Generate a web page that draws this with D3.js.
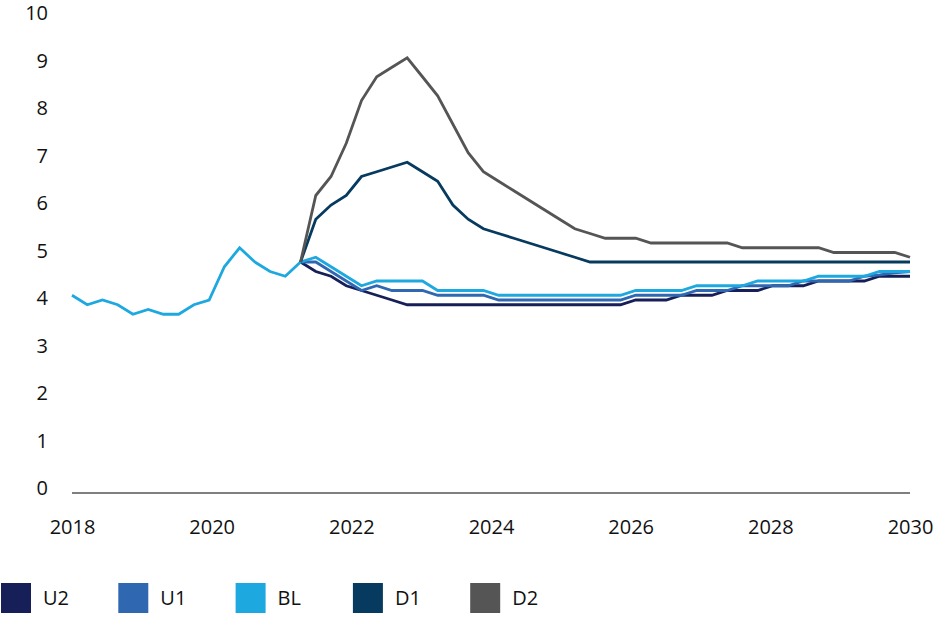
<!DOCTYPE html>
<html>
<head>
<meta charset="utf-8">
<script src="https://cdn.jsdelivr.net/npm/d3@7"></script>
<style>
  html, body { margin: 0; padding: 0; background: #fff; }
  svg { display: block; font-family: "Open Sans", "DejaVu Sans", sans-serif; }
</style>
</head>
<body>
<svg id="chart" width="937" height="624"></svg>
<script>
// ---- data (quarterly-ish points, 56 periods from 2018 to 2030) ----
const seriesNames = ["U2", "U1", "BL", "D1", "D2"];
const seriesColors = ["#161f57", "#2f67b1", "#1ea8e0", "#063a5e", "#555555"];
const yTicks = [0, 1, 2, 3, 4, 5, 6, 7, 8, 9, 10];
const xTickLabels = [2018, 2020, 2022, 2024, 2026, 2028, 2030];

const N = null;
const BL = [4.1, 3.9, 4.0, 3.9, 3.7, 3.8, 3.7, 3.7, 3.9, 4.0, 4.7, 5.1, 4.8, 4.6, 4.5, 4.8,
            4.9, 4.7, 4.5, 4.3, 4.4, 4.4, 4.4, 4.4, 4.2, 4.2, 4.2, 4.2,
            4.1, 4.1, 4.1, 4.1, 4.1, 4.1, 4.1, 4.1, 4.1,
            4.2, 4.2, 4.2, 4.2, 4.3, 4.3, 4.3, 4.3, 4.4, 4.4, 4.4, 4.4,
            4.5, 4.5, 4.5, 4.5, 4.6, 4.6, 4.6];
const U1 = [N, N, N, N, N, N, N, N, N, N, N, N, N, N, N, 4.8,
            4.8, 4.6, 4.4, 4.2, 4.3, 4.2, 4.2, 4.2, 4.1, 4.1, 4.1, 4.1,
            4.0, 4.0, 4.0, 4.0, 4.0, 4.0, 4.0, 4.0, 4.0,
            4.1, 4.1, 4.1, 4.1, 4.2, 4.2, 4.2, 4.3, 4.3, 4.3, 4.3, 4.4,
            4.4, 4.4, 4.4, 4.5, 4.53, 4.57, 4.6];
const U2 = [N, N, N, N, N, N, N, N, N, N, N, N, N, N, N, 4.8,
            4.6, 4.5, 4.3, 4.2, 4.1, 4.0, 3.9, 3.9, 3.9, 3.9, 3.9, 3.9,
            3.9, 3.9, 3.9, 3.9, 3.9, 3.9, 3.9, 3.9, 3.9,
            4.0, 4.0, 4.0, 4.1, 4.1, 4.1, 4.2, 4.2, 4.2, 4.3, 4.3, 4.3,
            4.4, 4.4, 4.4, 4.4, 4.5, 4.5, 4.5];
const D1 = [N, N, N, N, N, N, N, N, N, N, N, N, N, N, N, 4.8,
            5.7, 6.0, 6.2, 6.6, 6.7, 6.8, 6.9, 6.7, 6.5, 6.0, 5.7, 5.5,
            5.4, 5.3, 5.2, 5.1, 5.0, 4.9, 4.8, 4.8, 4.8,
            4.8, 4.8, 4.8, 4.8, 4.8, 4.8, 4.8, 4.8, 4.8, 4.8, 4.8, 4.8,
            4.8, 4.8, 4.8, 4.8, 4.8, 4.8, 4.8];
const D2 = [N, N, N, N, N, N, N, N, N, N, N, N, N, N, N, 4.8,
            6.2, 6.6, 7.3, 8.2, 8.7, 8.9, 9.1, 8.7, 8.3, 7.7, 7.1, 6.7,
            6.5, 6.3, 6.1, 5.9, 5.7, 5.5, 5.4, 5.3, 5.3,
            5.3, 5.2, 5.2, 5.2, 5.2, 5.2, 5.2, 5.1, 5.1, 5.1, 5.1, 5.1,
            5.1, 5.0, 5.0, 5.0, 5.0, 5.0, 4.9];
const seriesValues = [U2, U1, BL, D1, D2];

// ---- layout ----
const svg = d3.select("#chart");
const plotLeft = 72, plotRight = 910;
const periodIdx = d3.range(BL.length);

const x = d3.scalePoint().domain(periodIdx).range([plotLeft, plotRight]);
const xYear = d3.scaleLinear().domain([2018, 2030]).range([plotLeft, plotRight]);
const y = d3.scaleLinear().domain([0, 10]).range([490, 15]);

// y-axis labels (no axis line)
const yAxis = d3.axisLeft(y).tickValues(yTicks).tickSize(0).tickPadding(0).tickFormat(d3.format("d"));
const yg = svg.append("g").attr("transform", "translate(48,-2.5)").call(yAxis);
yg.select(".domain").remove();
yg.selectAll("text").attr("font-size", 20).attr("fill", "#111")
  .attr("font-family", "'Open Sans', sans-serif").attr("dy", "0.35em");

// baseline
svg.append("line")
  .attr("x1", plotLeft).attr("x2", plotRight)
  .attr("y1", y(0) + 3).attr("y2", y(0) + 3)
  .attr("stroke", "#555").attr("stroke-width", 1.5);

// x-axis labels
const xAxis = d3.axisBottom(xYear).tickValues(xTickLabels).tickSize(0).tickPadding(0).tickFormat(d3.format("d"));
const xg = svg.append("g").attr("transform", "translate(0,527)").call(xAxis);
xg.select(".domain").remove();
xg.selectAll("text").attr("font-size", 20).attr("fill", "#111")
  .attr("font-family", "'Open Sans', sans-serif").attr("dy", "0.35em");

// lines
const line = d3.line()
  .defined(d => d.v !== null)
  .x(d => x(d.i))
  .y(d => y(d.v));

seriesValues.forEach((vals, k) => {
  svg.append("path")
    .datum(vals.map((v, i) => ({ i, v })))
    .attr("d", line)
    .attr("fill", "none")
    .attr("stroke", seriesColors[k])
    .attr("stroke-width", 2.8)
    .attr("stroke-linejoin", "miter")
    .attr("stroke-linecap", "butt");
});

// legend
const legendStep = 117.3;
const lg = svg.append("g");
seriesNames.forEach((name, k) => {
  lg.append("rect")
    .attr("x", 1 + k * legendStep).attr("y", 583)
    .attr("width", 30).attr("height", 30)
    .attr("fill", seriesColors[k]);
  lg.append("text")
    .attr("x", 43 + k * legendStep).attr("y", 598)
    .attr("dy", "0.35em")
    .attr("font-size", 20).attr("fill", "#111")
    .text(name);
});
</script>
</body>
</html>
